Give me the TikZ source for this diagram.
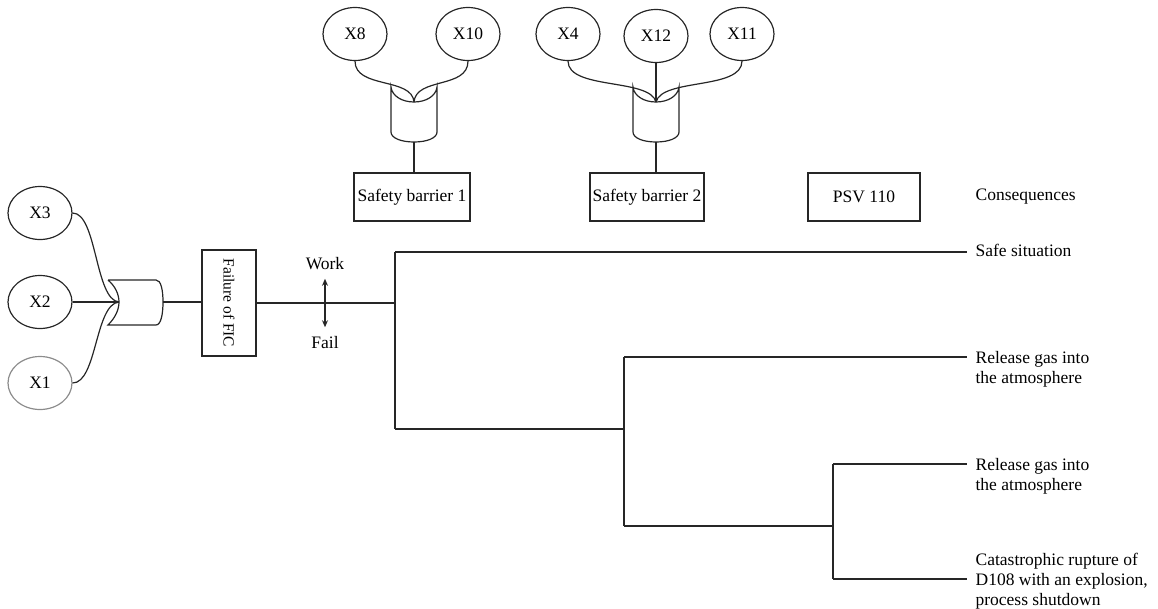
\documentclass[tikz,border=0pt]{standalone}
\usepackage{fontspec}
\setmainfont{Liberation Serif}
\usetikzlibrary{shapes.geometric,arrows.meta}
\begin{document}
\begin{tikzpicture}[x=1pt,y=-1pt, line width=1.2pt, draw=black!85,
  every node/.style={font=\fontsize{17.5}{20}\selectfont},
  evt/.style={draw=black!85, ellipse, minimum width=64pt, minimum height=53pt, inner sep=0pt},
  boxnode/.style={draw=black!85, rectangle, inner sep=0pt},
  lbl/.style={inner sep=0pt, align=left},
  tip/.style={{Stealth[length=7pt,width=6pt]}-{Stealth[length=7pt,width=6pt]}}]
\useasboundingbox (0,0) rectangle (1158,608);

% basic events
\node[evt] (X3) at (40,213) {X3};
\node[evt] (X2) at (40,302) {X2};
\node[evt, draw=black!45] (X1) at (40,383) {X1};
\node[evt] (X8) at (355,34) {X8};
\node[evt] (X10) at (468,34) {X10};
\node[evt] (X4) at (568,34) {X4};
\node[evt] (X12) at (656,36) {X12};
\node[evt] (X11) at (742,34) {X11};

% horizontal OR gate
\coordinate (g0in) at (119,302);
\coordinate (g0out) at (163,302);
\draw (108,280) -- (156,280) .. controls (161,280) and (163,290) .. (g0out)
  .. controls (163,314) and (161,325) .. (156,325) -- (108,325)
  .. controls (115,318) and (119,310) .. (g0in)
  .. controls (119,294) and (115,286) .. (108,280);
\draw (X3.east) .. controls (97,213) and (95,300) .. (g0in);
\draw (X2.east) -- (g0in);
\draw (X1.east) .. controls (97,383) and (95,304) .. (g0in);

% vertical OR gates
\coordinate (g1in) at (414,102);
\coordinate (g1out) at (414,142);
\coordinate (g2in) at (656,102);
\coordinate (g2out) at (656,142);
\foreach \cx in {414,656}{
  \begin{scope}[shift={(\cx,0)}]
    \draw (-23,87) .. controls (-22,96) and (-12,102) .. (0,102)
      .. controls (12,102) and (22,96) .. (23,87) -- (23,132)
      .. controls (23,138) and (13,142) .. (0,142)
      .. controls (-13,142) and (-23,138) .. (-23,132) -- cycle;
  \end{scope}
}
\draw (X8.south) .. controls (355,89) and (412,77) .. (g1in);
\draw (X10.south) .. controls (468,89) and (416,77) .. (g1in);
\draw (X4.south) .. controls (568,90) and (650,78) .. (g2in);
\draw (X12.south) -- (g2in);
\draw (X11.south) .. controls (742,90) and (662,78) .. (g2in);

% boxes
\node[boxnode, minimum width=116pt, minimum height=48pt] (SB1) at (412,197) {Safety barrier 1};
\node[boxnode, minimum width=114pt, minimum height=48pt] (SB2) at (647,197) {Safety barrier 2};
\node[boxnode, minimum width=112pt, minimum height=48pt] (PSV) at (864,197) {PSV 110};
\node[inner sep=0pt, anchor=base west] (cons) at (975,200) {Consequences};
\draw (g1out) -- (g1out |- SB1.north);
\draw (g2out) -- (g2out |- SB2.north);

\node[boxnode, minimum width=54pt, minimum height=106pt] (FIC) at (229,303)
  {\rotatebox{-90}{\fontsize{15.5}{18}\selectfont Failure of FIC}};
\draw (g0out) -- (g0out -| FIC.west);

% work / fail
\node[inner sep=0pt] (work) at (325,264) {Work};
\node[inner sep=0pt] (fail) at (325,343) {Fail};
\draw[tip, line width=1.2pt, shorten <=8pt, shorten >=9pt] (work.south) -- (fail.north);

% event tree
\coordinate (v1t) at (395,252);
\coordinate (v1b) at (395,429);
\coordinate (v2t) at (624,357);
\coordinate (v2b) at (624,526);
\coordinate (v3t) at (833,464);
\coordinate (v3b) at (833,579);
\coordinate (e1) at (967,252);
\coordinate (e2) at (967,357);
\coordinate (e3) at (967,464);
\coordinate (e4) at (967,579);
\draw (FIC.east) -- (FIC.east -| v1t);
\draw (v1t) -- (v1b);
\draw (v1t) -- (e1);
\draw (v1b) -- (v1b -| v2t);
\draw (v2t) -- (v2b);
\draw (v2t) -- (e2);
\draw (v2b) -- (v2b -| v3t);
\draw (v3t) -- (v3b);
\draw (v3t) -- (e3);
\draw (v3b) -- (e4);

\node[lbl, anchor=west] (c1) at (975,250) {Safe situation};
\node[lbl, anchor=north west] (c2) at (975,351) {Release gas into\\the atmosphere};
\node[lbl, anchor=north west] (c3) at (975,458) {Release gas into\\the atmosphere};
\node[lbl, anchor=north west] (c4) at (975,553) {Catastrophic rupture of\\D108 with an explosion,\\process shutdown};
\end{tikzpicture}
\end{document}
